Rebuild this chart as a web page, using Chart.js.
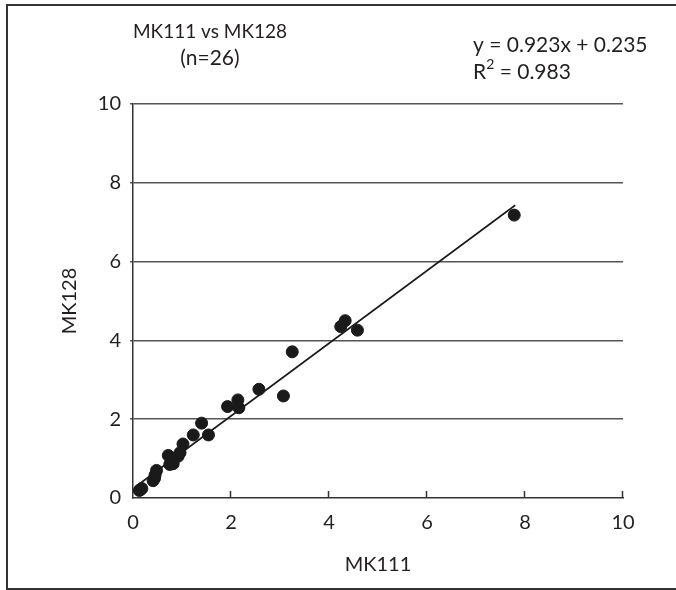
<!DOCTYPE html>
<html>
<head>
<meta charset="utf-8">
<script src="https://cdn.jsdelivr.net/npm/chart.js@4.4.1/dist/chart.umd.min.js"></script>
<style>
  html, body { margin: 0; padding: 0; background: #fff; }
  #wrap { width: 676px; height: 590px; position: relative; }
</style>
</head>
<body>
<div id="wrap"><canvas id="chart" width="676" height="590"></canvas></div>
<script>
// values (MK111 on x, MK128 on y)
const mk111 = [0.13, 0.15, 0.18, 0.41, 0.44, 0.45, 0.48, 0.72, 0.75, 0.82, 0.92, 0.96, 1.02,
  1.23, 1.40, 1.54, 1.93, 2.14, 2.16, 2.57, 3.07, 3.25, 4.24, 4.33, 4.58, 7.78];
const mk128 = [0.19, 0.21, 0.24, 0.44, 0.50, 0.58, 0.70, 1.08, 0.85, 0.87, 1.06, 1.15, 1.37,
  1.60, 1.90, 1.60, 2.32, 2.49, 2.29, 2.76, 2.59, 3.71, 4.35, 4.50, 4.26, 7.18];

// regression line end points
const fitX = [0.1, 7.8];
const fitY = [0.33, 7.43];

const axisTicks = [0, 2, 4, 6, 8, 10];
const titleLines = ["MK111 vs MK128", "(n=26)"];
const eqText = "y = 0.923x + 0.235";
const r2Text = "0.983";

const FONT = "Lato, 'Noto Sans', sans-serif";
const INK = "#231f20";

const decor = {
  id: "decor",
  afterDraw(chart) {
    const ctx = chart.ctx;
    const x = chart.scales.x;
    ctx.save();
    // frame
    ctx.strokeStyle = "#333";
    ctx.lineWidth = 2;
    ctx.beginPath();
    ctx.moveTo(676, 5);
    ctx.lineTo(7, 5);
    ctx.lineTo(7, 589);
    ctx.lineTo(676, 589);
    ctx.stroke();

    // inward ticks on x axis
    ctx.strokeStyle = "#333";
    ctx.lineWidth = 1.5;
    const yb = chart.scales.y.getPixelForValue(0);
    axisTicks.slice(1).forEach(v => {
      const px = Math.round(x.getPixelForValue(v)) - 0.5;
      ctx.beginPath();
      ctx.moveTo(px, yb);
      ctx.lineTo(px, yb - 7);
      ctx.stroke();
    });

    // title
    ctx.fillStyle = INK;
    ctx.textAlign = "center";
    ctx.textBaseline = "middle";
    ctx.font = "19px " + FONT;
    ctx.fillText(titleLines[0], 210, 32);
    ctx.font = "21px " + FONT;
    ctx.fillText(titleLines[1], 210, 58);

    // equation
    ctx.textAlign = "left";
    ctx.font = "21px " + FONT;
    ctx.fillText(eqText, 473, 45);
    ctx.fillText("R", 473, 72);
    const rw = ctx.measureText("R").width;
    ctx.font = "14px " + FONT;
    ctx.fillText("2", 473 + rw, 64);
    const sw = ctx.measureText("2").width;
    ctx.font = "21px " + FONT;
    ctx.fillText(" = " + r2Text, 473 + rw + sw, 72);
    ctx.restore();
  }
};

new Chart(document.getElementById("chart"), {
  type: "scatter",
  data: {
    datasets: [
      {
        label: "MK128",
        data: mk111.map((v, i) => ({ x: v, y: mk128[i] })),
        backgroundColor: "#1a1a1a",
        borderColor: "#1a1a1a",
        pointRadius: 6,
        pointHoverRadius: 6
      },
      {
        type: "line",
        label: "fit",
        data: fitX.map((v, i) => ({ x: v, y: fitY[i] })),
        borderColor: "#1a1a1a",
        borderWidth: 1.6,
        pointRadius: 0,
        fill: false
      }
    ]
  },
  options: {
    responsive: false,
    animation: false,
    layout: { padding: { left: 0, top: 104, right: 53, bottom: 0 } },
    plugins: { legend: { display: false }, tooltip: { enabled: false } },
    scales: {
      x: {
        type: "linear",
        min: 0, max: 10,
        afterFit(scale) { scale.height = 92; },
        afterBuildTicks(scale) { scale.ticks = axisTicks.map(v => ({ value: v })); },
        grid: { display: false, drawTicks: false },
        border: { display: true, color: "#333", width: 1.5 },
        ticks: { color: INK, font: { family: FONT, size: 20 }, padding: 13 },
        title: {
          display: true, text: "MK111", color: INK,
          font: { family: FONT, size: 20 }, padding: { top: 6, bottom: 13 }
        }
      },
      y: {
        type: "linear",
        min: 0, max: 10,
        afterFit(scale) { scale.width = 133; },
        afterBuildTicks(scale) { scale.ticks = axisTicks.map(v => ({ value: v })); },
        grid: {
          drawTicks: true,
          tickLength: 3,
          color: ctx => ctx.tick && ctx.tick.value === 0 ? "rgba(0,0,0,0)" : "#555",
          lineWidth: 1.5
        },
        border: { display: true, color: "#333", width: 1.5 },
        ticks: { color: INK, font: { family: FONT, size: 20 }, padding: 9 },
        title: {
          display: true, text: "MK128", color: INK,
          font: { family: FONT, size: 20 }, padding: { top: 58, bottom: 0 }
        }
      }
    }
  },
  plugins: [decor]
});
</script>
</body>
</html>
